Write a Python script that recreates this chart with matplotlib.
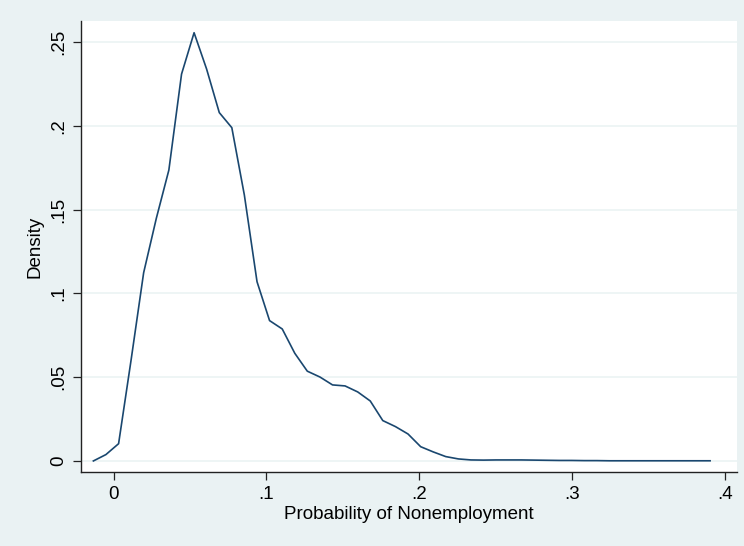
import matplotlib.pyplot as plt
from matplotlib.ticker import FuncFormatter

# kernel density estimate, 50 evaluation points
prob = [-0.0132, -0.0050, 0.0033, 0.0115, 0.0197, 0.0280, 0.0362, 0.0445, 0.0527, 0.0609,
        0.0692, 0.0774, 0.0856, 0.0939, 0.1021, 0.1104, 0.1186, 0.1268, 0.1351, 0.1433,
        0.1515, 0.1598, 0.1680, 0.1762, 0.1845, 0.1927, 0.2010, 0.2092, 0.2174, 0.2257,
        0.2339, 0.2421, 0.2504, 0.2586, 0.2668, 0.2751, 0.2833, 0.2916, 0.2998, 0.3080,
        0.3163, 0.3245, 0.3327, 0.3410, 0.3492, 0.3574, 0.3657, 0.3739, 0.3822, 0.3904]
density = [0.0000, 0.0038, 0.0103, 0.0604, 0.1124, 0.1449, 0.1737, 0.2310, 0.2557, 0.2340,
           0.2080, 0.1990, 0.1588, 0.1070, 0.0838, 0.0788, 0.0643, 0.0536, 0.0501, 0.0454,
           0.0448, 0.0412, 0.0358, 0.0241, 0.0205, 0.0161, 0.0085, 0.0054, 0.0026, 0.0012,
           0.0006, 0.0005, 0.0006, 0.0006, 0.0006, 0.0005, 0.0004, 0.0003, 0.0003, 0.0002,
           0.0002, 0.0001, 0.0001, 0.0001, 0.0001, 0.0001, 0.0001, 0.0001, 0.0001, 0.0001]

xticks = [0, 0.1, 0.2, 0.3, 0.4]
yticks = [0, 0.05, 0.1, 0.15, 0.2, 0.25]


def stata_fmt(v, pos):
    s = ("%g" % round(v, 4))
    if s.startswith("0."):
        s = s[1:]
    return s


def main():
    plt.rcParams['font.family'] = ['Liberation Sans', 'DejaVu Sans']
    bg = '#EAF2F3'
    fig = plt.figure(figsize=(7.44, 5.46), dpi=100, facecolor=bg)
    ax = fig.add_axes([81 / 744, 1 - 472 / 546, 656 / 744, 451 / 546])
    ax.set_facecolor('white')

    ax.plot(prob, density, color='#1A476F', linewidth=1.2)

    ax.set_xlim(-0.0213, 0.408)
    ax.set_ylim(-0.0066, 0.2627)
    ax.set_xticks(xticks)
    ax.set_yticks(yticks)
    ax.xaxis.set_major_formatter(FuncFormatter(stata_fmt))
    ax.yaxis.set_major_formatter(FuncFormatter(stata_fmt))
    ax.grid(axis='y', color=bg, linewidth=1.1)
    ax.set_axisbelow(True)

    for side in ['top', 'right']:
        ax.spines[side].set_visible(False)
    for side in ['left', 'bottom']:
        ax.spines[side].set_color('#222222')
        ax.spines[side].set_linewidth(1.0)

    ax.tick_params(axis='both', direction='out', length=6, width=0.9, color='#222222',
                   labelsize=13.5, pad=4)
    plt.setp(ax.get_yticklabels(), rotation=90, va='center')

    ax.set_xlabel("Probability of Nonemployment", fontsize=13.5, labelpad=2)
    ax.set_ylabel("Density", fontsize=13.5, labelpad=5)

    fig.savefig('out.png', dpi=100, facecolor=bg)


if __name__ == '__main__':
    main()
